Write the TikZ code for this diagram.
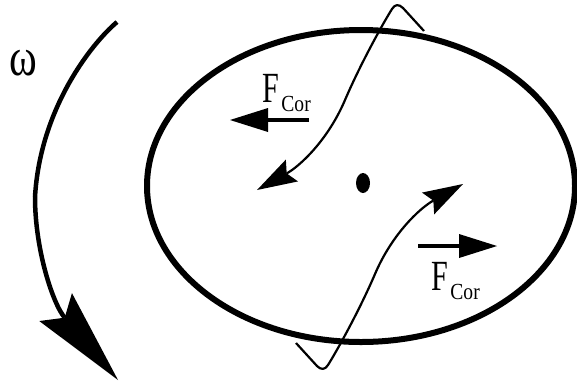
\documentclass[tikz,border=0pt]{standalone}
\usepackage{graphicx}
\usepackage{fontspec}
\setmainfont{Liberation Serif}
\usetikzlibrary{arrows.meta}

\newcommand{\fcorlabel}{\scalebox{0.70}[1]{\fontsize{43}{43}\selectfont F}\kern2pt\raisebox{-9pt}{\scalebox{0.85}[1]{\fontsize{23}{23}\selectfont Cor}}}

\begin{document}
\begin{tikzpicture}[x=1pt, y=-1pt,
  rim/.style={line width=6pt},
  spin/.style={line width=4.5pt, -{Stealth[length=96pt, width=43pt, inset=14pt, line width=0pt]}},
  wave/.style={line width=2.2pt, line join=round, -{Stealth[length=40pt, width=25pt, inset=6pt, line width=0pt]}},
  force/.style={line width=4pt, -{Triangle[length=38pt, width=24pt, line width=0pt]}},
  label/.style={inner sep=0pt, anchor=base west},
]

\useasboundingbox (0,0) rectangle (577,384);

% === rotating disc and its axis ===
\draw[rim] (361,186) ellipse [x radius=214, y radius=156];
\fill (363,183) ellipse [x radius=7, y radius=10];

% === sense of rotation ===
\draw[spin] (117,22) .. controls (90,45) and (40,110) .. (35,197)
  .. controls (35,250) and (53,304) .. (118,380);
\node[label] (omega) at (9,75) {\scalebox{0.78}[1]{\fontsize{54}{54}\selectfont ω}};

% === deflected paths, one the turned copy of the other ===
\draw[wave] (424,31) -- (403,8) .. controls (399,4) and (395,4) .. (392,9)
  .. controls (382,25) and (360,65) .. (345,100)
  .. controls (328,140) and (300,166) .. (257,190);
\begin{scope}[rotate around={180:(360,187)}]
  \draw[wave] (424,31) -- (403,8) .. controls (399,4) and (395,4) .. (392,9)
    .. controls (382,25) and (360,65) .. (345,100)
    .. controls (328,140) and (300,166) .. (257,190);
\end{scope}

% === Coriolis forces ===
\draw[force] (309,120) -- (230,120);
\node[label] (fup) at (262.5,102) {\fcorlabel};

\draw[force] (418,246) -- (497,246);
\node[label] (fdown) at (431.5,290) {\fcorlabel};

\end{tikzpicture}
\end{document}
